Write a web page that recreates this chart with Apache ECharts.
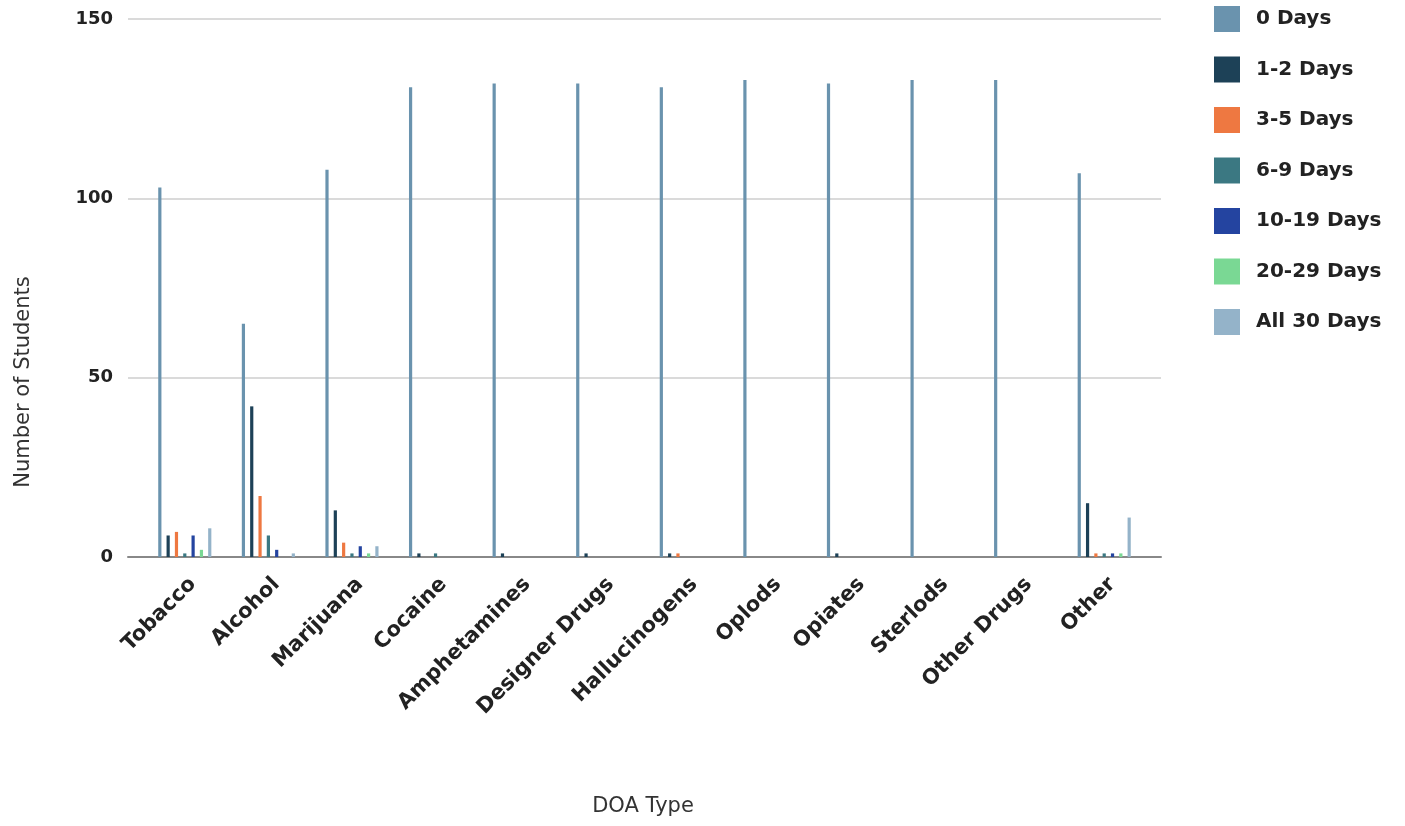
<!DOCTYPE html>
<html>
<head>
<meta charset="utf-8">
<script src="https://cdn.jsdelivr.net/npm/echarts@6/dist/echarts.min.js"></script>
<style>
html,body{margin:0;padding:0;background:#fff;}
#chart{width:1405px;height:826px;}
</style>
</head>
<body>
<div id="chart"></div>
<script>
var categories = ['Tobacco','Alcohol','Marijuana','Cocaine','Amphetamines','Designer Drugs','Hallucinogens','Oplods','Opiates','Sterlods','Other Drugs','Other'];
var seriesNames = ['0 Days','1-2 Days','3-5 Days','6-9 Days','10-19 Days','20-29 Days','All 30 Days'];
var days0   = [103, 65, 108, 131, 132, 132, 131, 133, 132, 133, 133, 107];
var days1_2 = [6, 42, 13, 1, 1, 1, 1, 0, 1, 0, 0, 15];
var days3_5 = [7, 17, 4, 0, 0, 0, 1, 0, 0, 0, 0, 1];
var days6_9 = [1, 6, 1, 1, 0, 0, 0, 0, 0, 0, 0, 1];
var days10_19 = [6, 2, 3, 0, 0, 0, 0, 0, 0, 0, 0, 1];
var days20_29 = [2, 0, 1, 0, 0, 0, 0, 0, 0, 0, 0, 1];
var days30  = [8, 1, 3, 0, 0, 0, 0, 0, 0, 0, 0, 11];
var yTicks = [0, 50, 100, 150];

var colors = ['#6a93ae','#1d4157','#ee7841','#3b7882','#2444a0','#7ad894','#94b3c9'];
var allData = [days0, days1_2, days3_5, days6_9, days10_19, days20_29, days30];
var FONT = 'DejaVu Sans';

var chart = echarts.init(document.getElementById('chart'));
var series = seriesNames.map(function(n, i){
  return {
    name: n, type: 'bar', xAxisIndex: 1, yAxisIndex: 1,
    data: allData[i], barWidth: 3.2, barGap: '160%',
    itemStyle: {color: colors[i]}
  };
});
chart.setOption({
  animation: false,
  color: colors,
  textStyle: {fontFamily: FONT},
  grid: [
    {left: 128, right: 244, top: 19, bottom: 269},
    {left: 143, right: 259, top: 19, bottom: 269},
    {left: 151, right: 251, top: 19, bottom: 269}
  ],
  xAxis: [
    {gridIndex: 0, type: 'category', data: categories,
     axisLine: {lineStyle: {color: '#888', width: 2}}, axisTick: {show: false}, axisLabel: {show: false}},
    {gridIndex: 1, type: 'category', data: categories, show: false},
    {gridIndex: 2, type: 'category', data: categories,
     axisLine: {show: false}, axisTick: {show: false},
     axisLabel: {rotate: 45, interval: 0, margin: 24, fontFamily: FONT, fontWeight: 'bold', fontSize: 21, color: '#222'}}
  ],
  yAxis: [
    {gridIndex: 0, type: 'value', min: yTicks[0], max: yTicks[yTicks.length-1], interval: 50,
     axisLine: {show: false}, axisTick: {show: false},
     axisLabel: {margin: 15, fontFamily: FONT, fontWeight: 'bold', fontSize: 18, color: '#222'},
     splitLine: {lineStyle: {color: '#dadada', width: 2}}},
    {gridIndex: 1, type: 'value', min: 0, max: 150, show: false, splitLine: {show: false}},
    {gridIndex: 2, type: 'value', min: 0, max: 150, show: false, splitLine: {show: false}}
  ],
  legend: {
    orient: 'vertical', left: 1209, top: 1,
    itemWidth: 26, itemHeight: 26, itemGap: 24.5, icon: 'rect',
    data: seriesNames,
    textStyle: {fontFamily: FONT, fontWeight: 'bold', fontSize: 20, color: '#222', padding: [0,0,0,11]}
  },
  graphic: [
    {type: 'text', x: 24, y: 382, rotation: Math.PI/2,
     style: {text: 'Number of Students', fontFamily: FONT, fontSize: 21, fill: '#333', textAlign: 'center', textVerticalAlign: 'middle'}},
    {type: 'text', x: 643, y: 807,
     style: {text: 'DOA Type', fontFamily: FONT, fontSize: 21, fill: '#333', textAlign: 'center', textVerticalAlign: 'middle'}}
  ],
  series: series
});
</script>
</body>
</html>
